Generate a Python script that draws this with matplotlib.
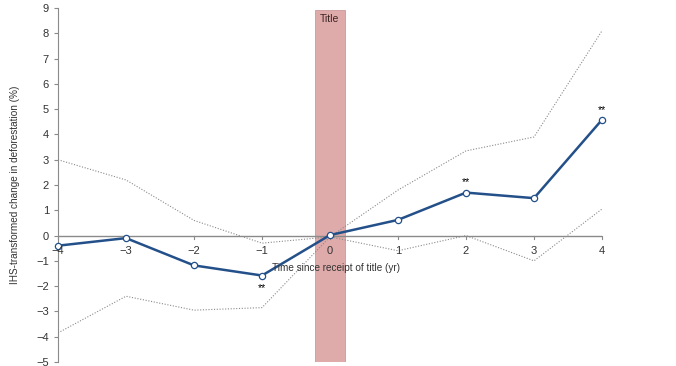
import matplotlib.pyplot as plt

plt.rcParams['font.family'] = ['Liberation Sans', 'DejaVu Sans']

years = [-4, -3, -2, -1, 0, 1, 2, 3, 4]
effect = [-0.4, -0.1, -1.18, -1.58, 0.02, 0.62, 1.7, 1.48, 4.58]
upper_ci = [3.0, 2.2, 0.6, -0.3, -0.05, 1.8, 3.35, 3.9, 8.1]
lower_ci = [-3.85, -2.4, -2.95, -2.85, -0.05, -0.6, 0.0, -1.0, 1.05]
# stars: year and which side
stars = [(-1, 'below'), (2, 'above'), (4, 'above')]

fig = plt.figure(figsize=(6.76, 3.66), dpi=100)
ax = fig.add_axes([0.0858, 0.011, 0.8047, 0.967])

# title period band
ax.axvspan(-0.215, 0.215, ymin=0, ymax=0.995, color='#dfaaaa', zorder=1, lw=0.6, ec='#c99a9a')
ax.text(0, 8.55, 'Title', ha='center', va='center', fontsize=7.5, color='#3a2424', zorder=5)

ax.axhline(0, color='#8a8a8a', lw=1.0, zorder=2)
ax.plot(years, upper_ci, color='#8a8a8a', lw=0.8, ls=(0, (1, 1.5)), zorder=3)
ax.plot(years, lower_ci, color='#8a8a8a', lw=0.8, ls=(0, (1, 1.5)), zorder=3)
ax.plot(years, effect, color='#24508a', lw=1.8, marker='o', ms=4.5,
        mfc='white', mec='#24508a', mew=0.9, zorder=4, clip_on=False)

for yr, side in stars:
    val = effect[years.index(yr)]
    if side == 'above':
        ax.text(yr, val + 0.2, '**', ha='center', va='bottom', fontsize=7.5)
    else:
        ax.text(yr, val - 0.3, '**', ha='center', va='top', fontsize=7.5)

ax.set_xlim(-4, 4)
ax.set_ylim(-5, 9)
ax.set_yticks(range(-5, 10))
ax.set_xticks(years)

for s in ['top', 'right', 'bottom']:
    ax.spines[s].set_visible(False)
ax.spines['left'].set_color('#8a8a8a')
ax.spines['left'].set_linewidth(0.8)

# x ticks sit on the zero line
ax.tick_params(axis='x', which='both', bottom=False, labelbottom=False)
for yr in years:
    ax.plot([yr, yr], [0, -0.12], color='#8a8a8a', lw=0.8, zorder=2, clip_on=False)
    if yr != 0:
        lab = str(yr).replace('-', '\u2212')
    else:
        lab = '0'
    ax.text(yr, -0.42, lab, ha='center', va='top', fontsize=8, color='#333333', zorder=5)

ax.tick_params(axis='y', length=3, width=0.8, color='#8a8a8a', labelsize=8, labelcolor='#333333')

ax.text(0.09, -1.3, 'Time since receipt of title (yr)', ha='center', va='center',
        fontsize=7.2, color='#333333', zorder=6)
ax.set_ylabel('IHS-transformed change in deforestation (%)', fontsize=7.2, color='#333333', labelpad=12)

fig.savefig('out.png', dpi=100)
